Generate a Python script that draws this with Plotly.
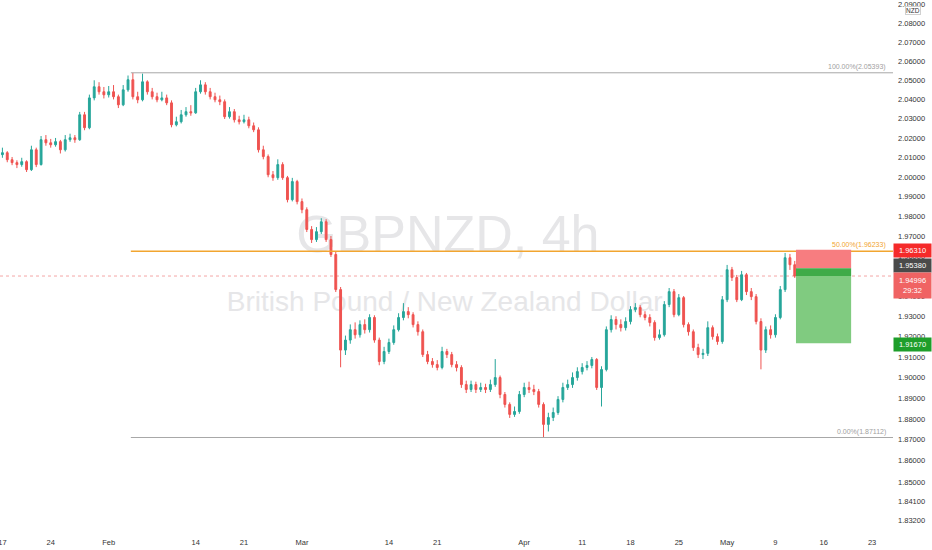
import numpy as np
import pandas as pd
import plotly.graph_objects as go

# ---------------- data (GBPNZD, 12h aggregation) ----------------
first_bar = "2022-01-14 12:00"
last_bar = "2022-05-11 00:00"
first_open = 2.0105

close = [2.0114, 2.0124, 2.0088, 2.0073, 2.0063, 2.0078, 2.0037, 2.0139, 2.0063, 2.0191,
         2.0175, 2.0165, 2.0181, 2.0139, 2.0191, 2.0201, 2.0191, 2.0320, 2.0253, 2.0408,
         2.0466, 2.0440, 2.0424, 2.0440, 2.0414, 2.0372, 2.0450, 2.0503, 2.0414, 2.0398,
         2.0492, 2.0440, 2.0414, 2.0398, 2.0408, 2.0382, 2.0268, 2.0284, 2.0320, 2.0336,
         2.0330, 2.0440, 2.0476, 2.0440, 2.0414, 2.0398, 2.0388, 2.0310, 2.0336, 2.0294,
         2.0284, 2.0294, 2.0263, 2.0242, 2.0139, 2.0104, 2.0011, 1.9996, 2.0063, 1.9996,
         1.9884, 1.9976, 1.9874, 1.9833, 1.9733, 1.9682, 1.9722, 1.9772, 1.9682, 1.9607,
         1.9432, 1.9134, 1.9183, 1.9234, 1.9209, 1.9259, 1.9234, 1.9294, 1.9183, 1.9078,
         1.9127, 1.9171, 1.9234, 1.9294, 1.9323, 1.9308, 1.9259, 1.9224, 1.9112, 1.9078,
         1.9063, 1.9049, 1.9127, 1.9112, 1.9063, 1.9049, 1.8966, 1.8942, 1.8966, 1.8942,
         1.8952, 1.8942, 1.8966, 1.9000, 1.8918, 1.8870, 1.8822, 1.8836, 1.8918, 1.8952,
         1.8942, 1.8932, 1.8870, 1.8774, 1.8807, 1.8831, 1.8894, 1.8952, 1.8966, 1.9000,
         1.9029, 1.9049, 1.9059, 1.9088, 1.8952, 1.9039, 1.9234, 1.9284, 1.9259, 1.9244,
         1.9274, 1.9333, 1.9343, 1.9308, 1.9294, 1.9269, 1.9195, 1.9209, 1.9358, 1.9422,
         1.9308, 1.9392, 1.9259, 1.9224, 1.9146, 1.9112, 1.9118, 1.9244, 1.9200, 1.9176,
         1.9382, 1.9531, 1.9492, 1.9382, 1.9506, 1.9422, 1.9397, 1.9274, 1.9134, 1.9234,
         1.9209, 1.9294, 1.9432, 1.9591, 1.9556, 1.94996]

high = [2.0140, 2.0150, 2.0132, 2.0102, 2.0085, 2.0098, 2.0085, 2.0160, 2.0150, 2.0210,
        2.0215, 2.0195, 2.0200, 2.0190, 2.0215, 2.0222, 2.0215, 2.0335, 2.0335, 2.0425,
        2.0500, 2.0490, 2.0465, 2.0470, 2.0475, 2.0425, 2.0475, 2.0525, 2.05393, 2.0440,
        2.0535, 2.0500, 2.0460, 2.0435, 2.0440, 2.0425, 2.0395, 2.0310, 2.0345, 2.0360,
        2.0370, 2.0460, 2.0500, 2.0490, 2.0460, 2.0435, 2.0420, 2.0400, 2.0360, 2.0350,
        2.0315, 2.0320, 2.0310, 2.0280, 2.0255, 2.0160, 2.0115, 2.0030, 2.0090, 2.0075,
        2.0005, 1.9995, 1.9985, 1.9890, 1.9845, 1.9750, 1.9745, 1.9790, 1.9785, 1.9700,
        1.9620, 1.9445, 1.9205, 1.9260, 1.9270, 1.9280, 1.9285, 1.9310, 1.9305, 1.9195,
        1.9150, 1.9190, 1.9255, 1.9315, 1.9365, 1.9345, 1.9320, 1.9275, 1.9235, 1.9130,
        1.9095, 1.9085, 1.9150, 1.9140, 1.9125, 1.9080, 1.9060, 1.8985, 1.8985, 1.8980,
        1.8975, 1.8970, 1.8990, 1.9090, 1.9010, 1.8930, 1.8880, 1.8860, 1.8935, 1.8975,
        1.8980, 1.8965, 1.8945, 1.8880, 1.8830, 1.8855, 1.8910, 1.8975, 1.8990, 1.9025,
        1.9050, 1.9070, 1.9080, 1.9100, 1.9095, 1.9055, 1.9250, 1.9305, 1.9300, 1.9285,
        1.9295, 1.9350, 1.9365, 1.9355, 1.9325, 1.9310, 1.9280, 1.9235, 1.9375, 1.9440,
        1.9435, 1.9410, 1.9400, 1.9270, 1.9235, 1.9165, 1.9140, 1.9275, 1.9255, 1.9215,
        1.9400, 1.9555, 1.9545, 1.9505, 1.9525, 1.9515, 1.9440, 1.9410, 1.9290, 1.9250,
        1.9255, 1.9310, 1.9450, 1.9615, 1.9610, 1.9575]

low = [2.0090, 2.0098, 2.0075, 2.0060, 2.0045, 2.0052, 2.0025, 2.0030, 2.0050, 2.0058,
       2.0160, 2.0150, 2.0155, 2.0120, 2.0130, 2.0180, 2.0175, 2.0185, 2.0240, 2.0245,
       2.0395, 2.0425, 2.0405, 2.0410, 2.0400, 2.0355, 2.0365, 2.0440, 2.0400, 2.0380,
       2.0390, 2.0425, 2.0400, 2.0385, 2.0390, 2.0370, 2.0255, 2.0260, 2.0275, 2.0310,
       2.0315, 2.0325, 2.0430, 2.0425, 2.0400, 2.0385, 2.0370, 2.0298, 2.0300, 2.0280,
       2.0270, 2.0275, 2.0250, 2.0230, 2.0125, 2.0090, 1.9998, 1.9980, 1.9985, 1.9985,
       1.9870, 1.9875, 1.9860, 1.9815, 1.9720, 1.9665, 1.9670, 1.9710, 1.9670, 1.9595,
       1.9420, 1.9050, 1.9110, 1.9165, 1.9190, 1.9195, 1.9215, 1.9220, 1.9170, 1.9060,
       1.9065, 1.9115, 1.9160, 1.9225, 1.9280, 1.9290, 1.9245, 1.9205, 1.9100, 1.9065,
       1.9048, 1.9035, 1.9040, 1.9095, 1.9050, 1.9030, 1.8950, 1.8925, 1.8930, 1.8925,
       1.8930, 1.8925, 1.8930, 1.8955, 1.8900, 1.8855, 1.8805, 1.8810, 1.8825, 1.8905,
       1.8925, 1.8915, 1.8855, 1.87112, 1.8740, 1.8790, 1.8820, 1.8880, 1.8940, 1.8950,
       1.8985, 1.9015, 1.9035, 1.9045, 1.8940, 1.8860, 1.9030, 1.9220, 1.9235, 1.9225,
       1.9230, 1.9260, 1.9320, 1.9295, 1.9280, 1.9250, 1.9180, 1.9185, 1.9200, 1.9345,
       1.9295, 1.9300, 1.9245, 1.9205, 1.9130, 1.9095, 1.9090, 1.9105, 1.9185, 1.9160,
       1.9165, 1.9370, 1.9475, 1.9370, 1.9375, 1.9405, 1.9380, 1.9260, 1.9040, 1.9120,
       1.9190, 1.9195, 1.9285, 1.9420, 1.9530, 1.9490]

# axis ticks
x_tick_dates = ["2022-01-17", "2022-01-24", "2022-02-01", "2022-02-14", "2022-02-21",
                "2022-03-01", "2022-03-14", "2022-03-21", "2022-04-01", "2022-04-11",
                "2022-04-18", "2022-04-25", "2022-05-02", "2022-05-09", "2022-05-16",
                "2022-05-23"]
x_tick_labels = ["17", "24", "Feb", "14", "21", "Mar", "14", "21", "Apr", "11",
                 "18", "25", "May", "9", "16", "23"]
y_tick_values = [2.09, 2.08, 2.07, 2.06, 2.05, 2.04, 2.03, 2.02, 2.01, 2.00, 1.99, 1.98,
                 1.97, 1.96, 1.95, 1.94, 1.93, 1.92, 1.91, 1.90, 1.89, 1.88, 1.87, 1.86,
                 1.85, 1.841, 1.832]

# drawing tools
fib_high = 2.05393
fib_mid = 1.96233
fib_low = 1.87112
fib_anchor = "2022-02-03 07:00"
stop_price = 1.96310
entry_price = 1.95380
last_price = 1.94996
target_price = 1.91670
countdown = "29:32"
pos_start = "2022-05-11 03:00"
pos_end = "2022-05-18 20:00"

# view window
view_start = "2022-01-14 18:00"
view_end = "2022-05-25 04:00"
y_view = (1.8274, 2.0925)

# ---------------- time scale (trading days, weekends removed) ----------------
ORIGIN = np.datetime64("2022-01-17")


def tpos(ts):
    t = pd.Timestamp(ts)
    d = np.busday_count(ORIGIN, np.datetime64(t.date()))
    return float(d) + (t.hour * 60 + t.minute) / 1440.0


times = []
for day in pd.bdate_range(pd.Timestamp(first_bar).normalize(), pd.Timestamp(last_bar).normalize()):
    for h in (0, 12):
        t = day + pd.Timedelta(hours=h)
        if pd.Timestamp(first_bar) <= t <= pd.Timestamp(last_bar):
            times.append(t)
assert len(times) == len(close) == len(high) == len(low)

xpos = [tpos(t) for t in times]
opens = [first_open] + close[:-1]

UP = "#26a69a"
DOWN = "#ef5350"
FONT = "Liberation Sans, Arial, sans-serif"
TXT = "#333333"
FS = 7.5

fig = go.Figure()
fig.add_trace(go.Candlestick(
    x=xpos, open=opens, high=high, low=low, close=close,
    increasing=dict(line=dict(color=UP, width=1), fillcolor=UP),
    decreasing=dict(line=dict(color=DOWN, width=1), fillcolor=DOWN),
    whiskerwidth=0, hoverinfo="skip", showlegend=False,
))

shapes = []
# watermark (below the candles)
shapes.append(dict(type="rect", xref="paper", yref="paper", x0=0.45, x1=0.553, y0=0.546, y1=0.588,
                   line=dict(width=0), fillcolor="rgba(0,0,0,0)", layer="below",
                   label=dict(text="GBPNZD, 4h", textposition="middle center",
                              font=dict(size=52, color="#e6e6e8", family=FONT))))
shapes.append(dict(type="rect", xref="paper", yref="paper", x0=0.45, x1=0.546, y0=0.416, y1=0.456,
                   line=dict(width=0), fillcolor="rgba(0,0,0,0)", layer="below",
                   label=dict(text="British Pound / New Zealand Dollar", textposition="middle center",
                              font=dict(size=28, color="#e6e6e8", family=FONT))))
# current price dotted line
shapes.append(dict(type="line", xref="paper", yref="y", x0=0, x1=1, y0=last_price, y1=last_price,
                   line=dict(color="#f4a6a6", width=1, dash="dot"), layer="below"))
# fib levels
for lvl, col, w in [(fib_high, "#a8a8a8", 1), (fib_mid, "#f2a530", 1.6), (fib_low, "#a8a8a8", 1)]:
    shapes.append(dict(type="line", xref="x", yref="y", x0=tpos(fib_anchor), x1=tpos(view_end),
                       y0=lvl, y1=lvl, line=dict(color=col, width=w)))
# position tool
xs, xe = tpos(pos_start), tpos(pos_end)
shapes.append(dict(type="rect", xref="x", yref="y", x0=xs, x1=xe, y0=entry_price, y1=stop_price,
                   fillcolor="#f77d80", line=dict(width=0)))
shapes.append(dict(type="rect", xref="x", yref="y", x0=xs, x1=xe, y0=last_price, y1=entry_price,
                   fillcolor="#3fab48", line=dict(width=0)))
shapes.append(dict(type="rect", xref="x", yref="y", x0=xs, x1=xe, y0=target_price, y1=last_price,
                   fillcolor="#80cb80", line=dict(width=0)))

ann = []
# fib labels
for lvl, col, name in [(fib_high, "#a0a0a0", "100.00%"), (fib_mid, "#f2a530", "50.00%"),
                       (fib_low, "#a0a0a0", "0.00%")]:
    ann.append(dict(xref="paper", yref="y", x=1, y=np.log10(lvl), xanchor="right", yanchor="bottom",
                    xshift=-5, yshift=0, showarrow=False, text=f"{name}({lvl:.5f})",
                    font=dict(size=7, color=col, family=FONT)))


# price scale labels
def plabel(price, text, bg, shift=0, h=11, anchor="middle"):
    return dict(xref="paper", yref="y", x=1, y=np.log10(price), xanchor="left", yanchor=anchor,
                xshift=0, yshift=shift, showarrow=False, text=text, bgcolor=bg, width=35, height=h,
                borderpad=1, font=dict(size=FS, color="white", family=FONT), align="center")


ann.append(plabel(stop_price, f"{stop_price:.5f}", "#f52a2a", shift=-1))
ann.append(plabel(entry_price, f"{entry_price:.5f}", "#4a4a4a", shift=2.5))
ann.append(plabel(last_price, f"{last_price:.5f}<br>{countdown}", "#f06363", shift=4, h=23, anchor="top"))
ann.append(plabel(target_price, f"{target_price:.5f}", "#1e9e2a", shift=-1))
ann.append(dict(xref="paper", yref="paper", x=1, y=1, xanchor="left", yanchor="top", xshift=12, yshift=-6,
                showarrow=False, text="NZD", bgcolor="white", bordercolor="#d0d0d0", borderwidth=1,
                borderpad=0, font=dict(size=6.5, color=TXT, family=FONT)))

fig.update_layout(
    width=932, height=550,
    margin=dict(l=0, r=39, t=0, b=20, autoexpand=False),
    paper_bgcolor="white", plot_bgcolor="white",
    showlegend=False, boxgap=0.45,
    shapes=shapes, annotations=ann,
    xaxis=dict(type="linear", range=[tpos(view_start), tpos(view_end)], automargin=False,
               tickvals=[tpos(d) for d in x_tick_dates], ticktext=x_tick_labels,
               showgrid=False, zeroline=False, showline=False, ticks="", ticklabelstandoff=6,
               ticklabeloverflow="allow",
               tickfont=dict(size=FS, color=TXT, family=FONT),
               rangeslider=dict(visible=False), fixedrange=True),
    yaxis=dict(type="log", side="right", range=[np.log10(y_view[0]), np.log10(y_view[1])],
               automargin=False, ticklabelstandoff=4, ticklabeloverflow="allow",
               tickvals=y_tick_values, ticktext=[f"{v:.5f}" for v in y_tick_values],
               showgrid=False, zeroline=False, showline=False, ticks="",
               tickfont=dict(size=FS, color=TXT, family=FONT), fixedrange=True),
)

fig.write_html("out.html", config={"displayModeBar": False},
               post_script="document.body.style.margin='0px';document.body.style.overflow='hidden';")
